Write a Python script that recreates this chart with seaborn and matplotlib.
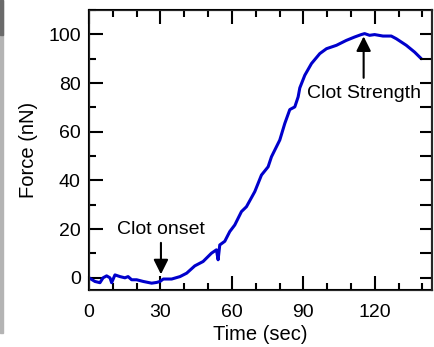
import numpy as np
import pandas as pd
import matplotlib
matplotlib.use('Agg')
import matplotlib.pyplot as plt
import seaborn as sns
from matplotlib.ticker import MultipleLocator
from matplotlib.patches import Rectangle

# Dados
tempo = [0, 2.5, 4.6, 5.9, 7.4, 8.8, 9.5, 10.9, 13, 15.1,
         16.4, 17.9, 20, 22.8, 26.3, 28.4, 29.8, 31.2, 34.7, 38.2,
         41, 44.4, 47.9, 51.4, 53.5, 54.2, 54.9, 57, 59.1, 61.2,
         64, 66.1, 69.6, 72.4, 75.2, 76.6, 80.1, 82.2, 84.3, 86.4,
         87.8, 88.5, 90.6, 93.4, 96.9, 99.7, 103.9, 108, 111.5, 114.3,
         115.7, 117.8, 119.9, 123.4, 126.9, 129, 133.2, 136.7, 139.5]
forca = [0, -1.5, -2, 0, 0.8, 0, -2, 1.2, 0.5, 0,
         0.5, -0.8, -0.8, -1.5, -2.2, -1.9, -1.5, -0.5, -0.5, 0.5,
         1.9, 4.9, 6.7, 10.1, 11.5, 7.4, 13.5, 15, 19, 21.7,
         27.2, 29.2, 35.4, 42.2, 45.6, 49.7, 56.6, 63.4, 69.1, 70.2,
         74.3, 78, 83.2, 88, 92.1, 94.1, 95.5, 97.5, 98.9, 99.9,
         100.3, 99.6, 99.9, 99.3, 99.3, 98.2, 95.5, 92.7, 90]

x_ticks = [0, 30, 60, 90, 120]
y_ticks = [0, 20, 40, 60, 80, 100]

df = pd.DataFrame({'Tempo': tempo, 'Forca': forca})

sns.set_style('ticks')
plt.rcParams['font.family'] = ['Liberation Sans', 'DejaVu Sans']
plt.rcParams['text.color'] = 'black'
plt.rcParams['axes.labelcolor'] = 'black'
plt.rcParams['xtick.color'] = 'black'
plt.rcParams['ytick.color'] = 'black'

fig = plt.figure(figsize=(4.35, 3.47), dpi=100)
ax = fig.add_axes([0.2046, 0.1643, 0.7885, 0.8069])

sns.lineplot(x='Tempo', y='Forca', data=df, ax=ax, color='#0000cc', linewidth=2.2)

ax.set_xlim(0, 144)
ax.set_ylim(-5, 110)
ax.set_xticks(x_ticks)
ax.set_yticks(y_ticks)
ax.xaxis.set_minor_locator(MultipleLocator(10))
ax.yaxis.set_minor_locator(MultipleLocator(10))
ax.tick_params(which='major', direction='in', length=10, width=1.5, labelsize=14,
               top=True, right=False, colors='black')
ax.tick_params(which='minor', direction='in', length=5, width=1.5, top=True, right=False)
ax.tick_params(axis='x', which='major', pad=10)
ax.tick_params(axis='y', which='major', pad=6)
for s in ax.spines.values():
    s.set_linewidth(1.5)
    s.set_visible(True)
    s.set_color('black')

# Eixo direito: marcas a cada 10 todas do mesmo tamanho
ax2 = ax.twinx()
ax2.set_ylim(-5, 110)
ax2.set_yticks(range(0, 110, 10))
ax2.tick_params(direction='in', length=9, width=1.5, labelright=False)
ax2.spines['right'].set_linewidth(1.5)

ax.set_xlabel('Time (sec)', fontsize=14.5, labelpad=3)
ax.set_ylabel('Force (nN)', fontsize=14.5, labelpad=7)

# Anotações
ax.annotate('', xy=(30.2, 0.3), xytext=(30.2, 15.5),
            arrowprops=dict(arrowstyle='-|>', color='black', lw=1.5, mutation_scale=22))
ax.text(30, 19.8, 'Clot onset', ha='center', va='center', fontsize=14)
ax.annotate('', xy=(115.3, 100.3), xytext=(115.3, 81),
            arrowprops=dict(arrowstyle='-|>', color='black', lw=1.5, mutation_scale=22))
ax.text(115.3, 75.8, 'Clot Strength', ha='center', va='center', fontsize=14)

# faixa cinza na borda esquerda
fig.patches.append(Rectangle((0, 0.04), 3 / 435, 0.96, transform=fig.transFigure,
                             color='#b4b4b4', zorder=0))
fig.patches.append(Rectangle((0, 0.9), 3 / 435, 0.1, transform=fig.transFigure,
                             color='#6a6a6a', zorder=0))

plt.savefig('out.png', dpi=100)
plt.close()
